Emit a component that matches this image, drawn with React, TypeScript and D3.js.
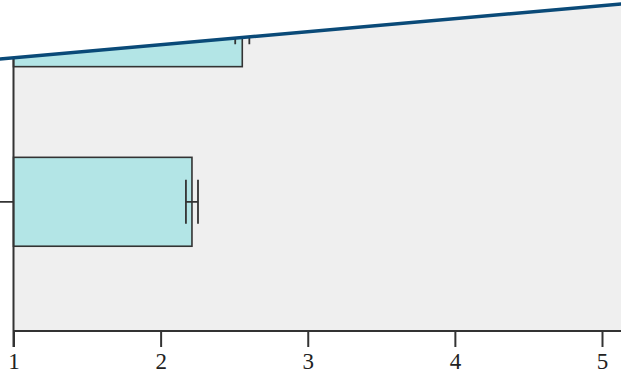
import React, { useEffect, useRef } from 'react';
import * as d3 from 'd3';

const categories: string[] = ['Group A', 'Group B'];
const means: number[] = [2.555, 2.213];
const errors: number[] = [0.048, 0.041];
const xTicks: number[] = [1, 2, 3, 4, 5];

const App: React.FC = () => {
  const ref = useRef<SVGSVGElement | null>(null);

  useEffect(() => {
    if (!ref.current) return;
    const W = 621;
    const H = 373;
    const axisY = 331;

    const svg = d3.select(ref.current);
    svg.selectAll('*').remove();
    svg.attr('width', W).attr('height', H);

    const x = d3.scaleLinear().domain([1, 5]).range([13.5, 602]);
    const y = d3
      .scaleBand<string>()
      .domain(categories)
      .range([-107, axisY])
      .paddingInner(0.505)
      .paddingOuter(0.472);

    // clip region below the slanted edge
    const edge = (px: number) => 59 - (55 * px) / 621;
    const defs = svg.append('defs');
    defs
      .append('clipPath')
      .attr('id', 'cut')
      .append('polygon')
      .attr('points', `${-10},${edge(-10)} ${W + 10},${edge(W + 10)} ${W + 10},${H} ${-10},${H}`);

    const g = svg.append('g').attr('clip-path', 'url(#cut)');

    // plot background
    g.append('rect')
      .attr('x', x(1))
      .attr('y', -200)
      .attr('width', W)
      .attr('height', axisY + 200)
      .attr('fill', '#efefef');

    // bars
    g.selectAll('.bar')
      .data(categories)
      .enter()
      .append('rect')
      .attr('x', x(1))
      .attr('y', (d) => y(d) || 0)
      .attr('width', (_d, i) => x(means[i]) - x(1))
      .attr('height', y.bandwidth())
      .attr('fill', '#b3e5e6')
      .attr('stroke', '#333')
      .attr('stroke-width', 1.6);

    // error bars
    const capH = 22;
    categories.forEach((c, i) => {
      const cy = (y(c) || 0) + y.bandwidth() / 2;
      const lo = x(means[i] - errors[i]);
      const hi = x(means[i] + errors[i]);
      const eb = g.append('g').attr('stroke', '#333').attr('stroke-width', 1.8);
      eb.append('line').attr('x1', lo).attr('x2', hi).attr('y1', cy).attr('y2', cy);
      eb.append('line').attr('x1', lo).attr('x2', lo).attr('y1', cy - capH).attr('y2', cy + capH);
      eb.append('line').attr('x1', hi).attr('x2', hi).attr('y1', cy - capH).attr('y2', cy + capH);
    });

    // y axis (category labels fall outside the crop, so only ticks are drawn)
    const yAxis = g
      .append('g')
      .attr('transform', `translate(${x(1)},0)`)
      .call(d3.axisLeft(y).tickSize(16).tickSizeOuter(0));
    yAxis.select('.domain').remove();
    yAxis.selectAll('.tick text').remove();
    yAxis.selectAll('.tick line').attr('stroke', '#333').attr('stroke-width', 1.8);
    g.append('line')
      .attr('x1', x(1))
      .attr('x2', x(1))
      .attr('y1', -200)
      .attr('y2', axisY + 16)
      .attr('stroke', '#333')
      .attr('stroke-width', 2);

    // x axis
    const xAxis = g
      .append('g')
      .attr('transform', `translate(0,${axisY})`)
      .call(d3.axisBottom(x).tickValues(xTicks).tickFormat(d3.format('d')).tickSize(16).tickSizeOuter(0));
    xAxis.select('.domain').remove();
    g.append('line')
      .attr('x1', x(1))
      .attr('x2', W + 5)
      .attr('y1', axisY)
      .attr('y2', axisY)
      .attr('stroke', '#333')
      .attr('stroke-width', 2);
    xAxis.selectAll('.tick line').attr('stroke', '#333').attr('stroke-width', 2);
    xAxis
      .selectAll('.tick text')
      .attr('y', 38)
      .attr('dy', null)
      .attr('fill', '#222')
      .style('font-family', "'Liberation Serif', 'Times New Roman', serif")
      .style('font-size', '23px');

    // slanted edge line
    svg
      .append('line')
      .attr('x1', -5)
      .attr('y1', edge(-5))
      .attr('x2', W + 5)
      .attr('y2', edge(W + 5))
      .attr('stroke', '#0a4a78')
      .attr('stroke-width', 3.5);
  }, []);

  return (
    <svg
      ref={ref}
      style={{ position: 'absolute', left: 0, top: 0, display: 'block', background: '#fff' }}
    ></svg>
  );
};

export default App;
